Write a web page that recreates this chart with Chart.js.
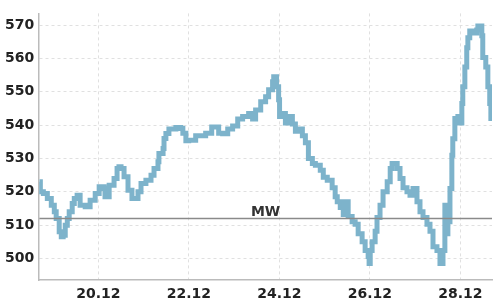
<!DOCTYPE html>
<html>
<head>
<meta charset="utf-8">
<script src="https://cdn.jsdelivr.net/npm/chart.js@4"></script>
<style>
  html, body { margin: 0; padding: 0; background: #fff; }
  #wrap { width: 500px; height: 300px; }
</style>
</head>
<body>
<div id="wrap"><canvas id="chart"></canvas></div>
<script>
// hours since 18.12 00:00
var hours = [16.7, 17.2, 18.8, 20.9, 23.0, 24.6, 25.6, 27.2, 28.3, 29.3, 30.4, 31.5, 32.5, 34.1, 35.2, 36.7, 38.3, 41.0, 43.6, 46.3,
  48.4, 51.0, 51.5, 53.7, 56.3, 57.9, 58.9, 60.0, 61.6, 63.7, 65.8, 67.4, 69.0, 70.6, 73.2, 75.9, 77.5, 79.6, 80.1, 82.3,
  82.8, 83.8, 85.4, 89.1, 91.7, 92.8, 94.4, 95.9, 99.6, 104.9, 108.1, 111.8, 113.9, 116.6, 119.2, 121.9, 124.5, 127.7, 129.8, 131.4,
  134.1, 136.7, 138.3, 140.4, 141.0, 142.5, 143.6, 144.1, 145.6, 147.2, 148.8, 150.9, 152.5, 154.1, 156.2, 157.8, 159.4, 161.5, 163.1, 165.7,
  167.3, 169.4, 172.0, 173.6, 174.7, 176.3, 177.9, 178.9, 180.5, 182.6, 184.2, 185.8, 187.9, 189.5, 191.1, 191.6, 192.2, 193.2, 194.8, 195.8,
  197.4, 199.0, 201.2, 202.8, 203.8, 206.5, 208.0, 209.6, 211.7, 213.3, 214.9, 217.0, 218.6, 220.2, 222.3, 223.9, 225.5, 227.6, 229.2, 230.8,
  231.8, 232.9, 233.4, 234.5, 235.5, 236.0, 237.1, 238.7, 239.7, 240.8, 241.3, 242.4, 243.4, 244.0, 245.0, 246.6, 248.7, 249.3, 251.4, 251.9,
  253.5, 254.6, 255.6, 256.2];
var values = [523, 520, 519.5, 518, 516, 514, 512, 508, 506.5, 507, 510, 512, 514, 516.5, 518, 519, 516, 515.5, 517.5, 519.5,
  521.5, 521, 518.5, 522, 524, 527, 527.5, 527, 524.5, 520.5, 518, 518, 520, 522.5, 523.5, 525, 527, 529, 531.5, 533,
  536, 537.5, 538.8, 539.3, 539, 537.6, 535.3, 535.5, 536.8, 537.6, 539.4, 537.6, 537.4, 538.8, 539.7, 541.8, 542.6, 543.5, 541.8, 544.5,
  547, 548.5, 550.6, 553, 554.5, 551.5, 547.6, 542.6, 543.5, 540.6, 542.6, 540.3, 538.2, 538.8, 536.8, 534.7, 530, 528.5, 528, 526.5,
  524.4, 523.5, 521.2, 518.5, 517, 515.3, 513.2, 517, 512.6, 511, 510.3, 507.4, 505, 502.4, 500.6, 498.5, 502.4, 505, 508.2, 512.3,
  516, 520, 523, 527, 528.5, 527, 524, 521.2, 520, 519, 521, 517, 514, 512.3, 510.3, 508.2, 503.5, 502.4, 498.5, 502.4,
  516, 507.4, 511, 521, 531, 535.9, 542, 542.6, 540.6, 546.5, 551.5, 557.4, 563.2, 566.2, 568.2, 567.6, 568.5, 569.7, 566.8, 560.3,
  557.4, 551.5, 546.5, 541.2];

var mwValue = 512;
var mwLabel = 'MW';
var xTickHours = [48, 96, 144, 192, 240];
var xTickLabels = ['20.12', '22.12', '24.12', '26.12', '28.12'];
var yTicks = [500, 510, 520, 530, 540, 550, 560, 570];
var xMin = 16.6, xMax = 256.8;
var yMin = 493.5, yMax = 573.5;

var points = hours.map(function(h, i) { return {x: h, y: values[i]}; });

var mwLabelPlugin = {
  id: 'mwLabel',
  afterDatasetsDraw: function(chart) {
    var ctx = chart.ctx;
    var area = chart.chartArea;
    var y = chart.scales.y.getPixelForValue(mwValue);
    ctx.save();
    ctx.font = 'bold 14px "DejaVu Sans"';
    ctx.fillStyle = '#333';
    ctx.textAlign = 'center';
    ctx.textBaseline = 'alphabetic';
    ctx.fillText(mwLabel, (area.left + area.right) / 2, y - 3);
    ctx.restore();
  }
};

new Chart(document.getElementById('chart'), {
  type: 'line',
  data: {
    datasets: [
      {
        data: [{x: xMin, y: mwValue}, {x: xMax, y: mwValue}],
        borderColor: '#8a8a8a',
        borderWidth: 1.5,
        pointRadius: 0
      },
      {
        data: points,
        borderColor: '#7db3cb',
        borderWidth: 5,
        stepped: true,
        pointRadius: 0
      }
    ]
  },
  options: {
    responsive: true,
    maintainAspectRatio: false,
    animation: false,
    layout: { padding: { left: 0, top: -3, right: 8, bottom: -9 } },
    plugins: { legend: { display: false }, tooltip: { enabled: false } },
    scales: {
      x: {
        type: 'linear',
        min: xMin,
        max: xMax,
        afterBuildTicks: function(axis) {
          axis.ticks = xTickHours.map(function(v) { return {value: v}; });
        },
        ticks: {
          autoSkip: false,
          maxRotation: 0,
          padding: 6,
          color: '#222',
          font: { family: 'DejaVu Sans', size: 14, weight: 'bold' },
          callback: function(v) {
            var i = xTickHours.indexOf(v);
            return i >= 0 ? xTickLabels[i] : '';
          }
        },
        grid: { color: '#e0e0e0', drawTicks: false },
        border: { color: '#bbb', width: 1.5, dash: [3, 3] }
      },
      y: {
        min: yMin,
        max: yMax,
        afterBuildTicks: function(axis) {
          axis.ticks = yTicks.map(function(v) { return {value: v}; });
        },
        ticks: {
          padding: 5,
          color: '#222',
          font: { family: 'DejaVu Sans', size: 14, weight: 'bold' }
        },
        grid: { color: '#e0e0e0', drawTicks: false },
        border: { color: '#bbb', width: 1.5, dash: [3, 3] }
      }
    }
  },
  plugins: [mwLabelPlugin]
});
</script>
</body>
</html>
